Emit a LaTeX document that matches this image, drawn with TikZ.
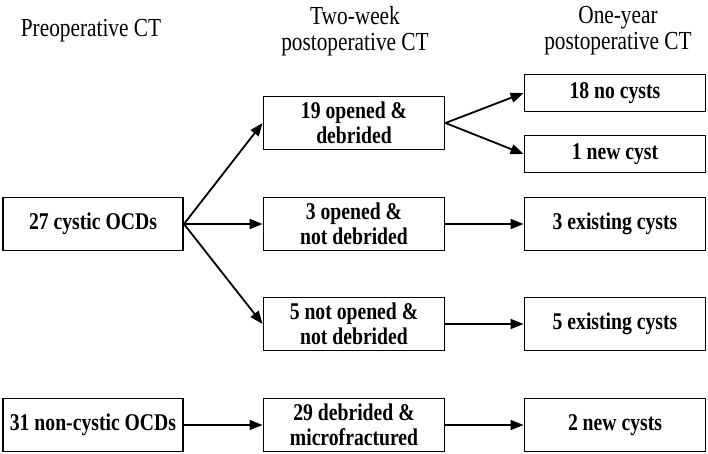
\documentclass[tikz,border=0pt]{standalone}
\usepackage{fontspec}
\setmainfont{Liberation Serif}[FakeStretch=0.82]
\usetikzlibrary{arrows.meta}

\tikzset{
	box/.style={draw, line width=1.9pt, minimum width=181pt, minimum height=53pt,
		align=center, inner sep=0pt, font=\fontsize{24}{25}\selectfont\bfseries},
	flatbox/.style={box, minimum height=37pt},
	head/.style={align=center, font=\fontsize{26}{26}\selectfont},
	link/.style={-{Triangle[length=13pt,width=10pt]}, line width=1.8pt},
}

\begin{document}
\begin{tikzpicture}[x=1pt, y=-1pt]
	\useasboundingbox (0,0) rectangle (708,453);
	% column heads
	\node[head] (hpre) at (91,31) {Preoperative CT};
	\node[head] (htwo) at (355,31) {Two-week\\postoperative CT};
	\node[head] (hone) at (618,31) {One-year\\postoperative CT};
	% preoperative
	\node[box, minimum width=180pt] (cystic) at (93,224) {27 cystic OCDs};
	\node[box, minimum width=180pt] (noncystic) at (93,425) {31 non-cystic OCDs};
	% two-week
	\node[box] (opdeb) at (354,123) {19 opened \&\\debrided};
	\node[box] (opnot) at (354,224) {3 opened \&\\not debrided};
	\node[box] (notnot) at (354,324) {5 not opened \&\\not debrided};
	\node[box] (debmic) at (354,425) {29 debrided \&\\microfractured};
	% one-year
	\node[flatbox] (nocyst) at (615,93) {18 no cysts};
	\node[flatbox] (newcyst) at (615,154) {1 new cyst};
	\node[box] (exist3) at (615,224) {3 existing cysts};
	\node[box] (exist5) at (615,324) {5 existing cysts};
	\node[box] (new2) at (615,425) {2 new cysts};
	\path[link]
	(cystic.east) edge (opdeb.west)
	(cystic.east) edge (opnot.west)
	(cystic.east) edge (notnot.west)
	(noncystic) edge (debmic)
	(opdeb.east) edge (nocyst.west)
	(opdeb.east) edge (newcyst.west)
	(opnot) edge (exist3)
	(notnot) edge (exist5)
	(debmic) edge (new2);
\end{tikzpicture}
\end{document}
